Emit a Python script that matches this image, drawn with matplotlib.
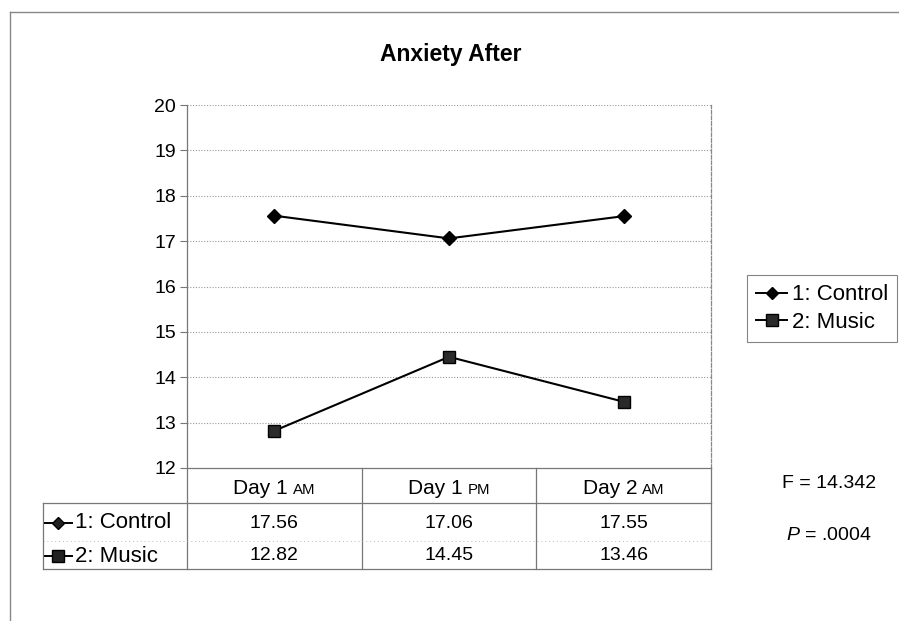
import matplotlib
matplotlib.use("Agg")
import matplotlib.pyplot as plt
from matplotlib.lines import Line2D
import matplotlib.transforms as mtransforms

# ---------------- data ----------------
categories = ["Day 1", "Day 1", "Day 2"]
periods = ["AM", "PM", "AM"]
series_names = ["1: Control", "2: Music"]
control = [17.56, 17.06, 17.55]
music = [12.82, 14.45, 13.46]
y_ticks = [12, 13, 14, 15, 16, 17, 18, 19, 20]
title = "Anxiety After"
f_stat = "14.342"
p_value = ".0004"

plt.rcParams['font.family'] = ['Liberation Sans', 'DejaVu Sans']
plt.rcParams['mathtext.fontset'] = 'custom'
plt.rcParams['mathtext.it'] = 'Liberation Sans:italic'
plt.rcParams['mathtext.rm'] = 'Liberation Sans'

W, H = 899, 621
fig = plt.figure(figsize=(W / 100, H / 100), dpi=100)
fig.patch.set_facecolor('white')

HDR_FS = 15
LABEL_FS = 16
NUM_FS = 14


def fx(px):
    return px / W


def fy(py):
    return 1 - py / H


# outer frame (left and top edges)
fig.add_artist(Line2D([fx(10), fx(10)], [fy(12), 0], transform=fig.transFigure,
                      color='#888888', lw=1.0))
fig.add_artist(Line2D([fx(10), 1], [fy(12), fy(12)], transform=fig.transFigure,
                      color='#888888', lw=1.0))

# ---------------- axes ----------------
ax_l, ax_r, ax_t, ax_b = 187, 711, 105, 468
ax = fig.add_axes([fx(ax_l), fy(ax_b), fx(ax_r - ax_l), (ax_b - ax_t) / H])
x = list(range(len(categories)))
ax.set_xlim(-0.5, len(categories) - 0.5)
ax.set_ylim(y_ticks[0], y_ticks[-1])
ax.set_yticks(y_ticks)
ax.set_yticklabels([str(t) for t in y_ticks], fontsize=NUM_FS)
ax.set_xticks([])
ax.tick_params(axis='y', length=5, color='#777777', pad=3)
for yt in y_ticks[1:]:
    ax.axhline(yt, color='#9a9a9a', lw=0.8, ls=(0, (1, 1.5)), zorder=0)
ax.spines['top'].set_visible(False)
ax.spines['left'].set_color('#777777')
ax.spines['bottom'].set_color('#777777')
ax.spines['right'].set_color('#888888')
ax.spines['right'].set_linestyle((0, (3, 1.5)))
for s in ax.spines.values():
    s.set_linewidth(0.9)

ax.plot(x, control, color='black', lw=1.5, marker='D', markersize=7,
        markerfacecolor='black', markeredgecolor='black', clip_on=False)
ax.plot(x, music, color='black', lw=1.5, marker='s', markersize=9,
        markerfacecolor='#2a2a2a', markeredgecolor='black', clip_on=False)

# ---------------- title ----------------
fig.text(fx(451), fy(61), title, ha='center', va='baseline', fontsize=16.5,
         fontweight='bold')

# ---------------- data table ----------------
bt = mtransforms.blended_transform_factory(ax.transData, fig.transFigure)
row_hdr_bot = 503
row_mid = 541
row_bot = 569
tbl_left = 43
gray = '#777777'
for b in [i - 0.5 for i in range(len(categories) + 1)]:
    fig.add_artist(Line2D([b, b], [fy(ax_b), fy(row_bot)], transform=bt,
                          color=gray, lw=0.9))
fig.add_artist(Line2D([fx(tbl_left), fx(ax_r)], [fy(row_hdr_bot)] * 2,
                      transform=fig.transFigure, color=gray, lw=0.9))
fig.add_artist(Line2D([fx(tbl_left), fx(ax_r)], [fy(row_bot)] * 2,
                      transform=fig.transFigure, color=gray, lw=0.9))
fig.add_artist(Line2D([fx(tbl_left), fx(ax_r)], [fy(row_mid)] * 2,
                      transform=fig.transFigure, color='#bbbbbb', lw=0.7,
                      ls=(0, (1, 3))))
fig.add_artist(Line2D([fx(tbl_left)] * 2, [fy(row_hdr_bot), fy(row_bot)],
                      transform=fig.transFigure, color=gray, lw=0.9))

# header labels with small-caps period
main_txt = []
small_txt = []
for i, (c, p) in enumerate(zip(categories, periods)):
    t1 = fig.text(0, 0, c, ha='left', va='baseline', fontsize=HDR_FS)
    t2 = fig.text(0, 0, p, ha='left', va='baseline', fontsize=HDR_FS * 0.72)
    main_txt.append(t1)
    small_txt.append(t2)
fig.canvas.draw()
r = fig.canvas.get_renderer()
gap = 5
for i in range(len(categories)):
    w1 = main_txt[i].get_window_extent(r).width
    w2 = small_txt[i].get_window_extent(r).width
    cx = ax.transData.transform((i, 0))[0]
    left = cx - (w1 + gap + w2) / 2
    main_txt[i].set_position((left / W, fy(494)))
    small_txt[i].set_position(((left + w1 + gap) / W, fy(494)))

# row values
for vals, ypx in [(control, 523), (music, 556)]:
    for i, v in enumerate(vals):
        fig.text(i, fy(ypx), f"{v:.2f}", transform=bt, ha='center',
                 va='center', fontsize=NUM_FS)

# row legend keys
for name, mk, ms, ypx in [(series_names[0], 'D', 6, 523),
                          (series_names[1], 's', 8, 556)]:
    fig.add_artist(Line2D([fx(45), fx(72)], [fy(ypx)] * 2,
                          transform=fig.transFigure, color='black', lw=1.4))
    fig.add_artist(Line2D([fx(58.5)], [fy(ypx)], transform=fig.transFigure,
                          color='black', lw=0, marker=mk, markersize=ms,
                          markerfacecolor='#222222', markeredgecolor='black'))
    fig.text(fx(75), fy(ypx), name, ha='left', va='center', fontsize=LABEL_FS)

# ---------------- legend ----------------
handles = [Line2D([], [], color='black', lw=1.4, marker='D', markersize=6,
                  markerfacecolor='black'),
           Line2D([], [], color='black', lw=1.4, marker='s', markersize=8,
                  markerfacecolor='#2a2a2a')]
leg = fig.legend(handles, series_names, loc='upper left',
                 bbox_to_anchor=(fx(747), fy(275)), frameon=True,
                 fancybox=False, edgecolor='#666666', fontsize=LABEL_FS,
                 handlelength=1.4, handletextpad=0.2, borderpad=0.42,
                 labelspacing=0.3, borderaxespad=0)
leg.get_frame().set_linewidth(0.8)

# ---------------- statistics ----------------
fig.text(fx(829), fy(483), f"F = {f_stat}", ha='center', va='center',
         fontsize=14)
fig.text(fx(829), fy(535), f"$\\it{{P}}$ = {p_value}", ha='center',
         va='center', fontsize=14)

fig.savefig("out.png", dpi=100, facecolor='white')
